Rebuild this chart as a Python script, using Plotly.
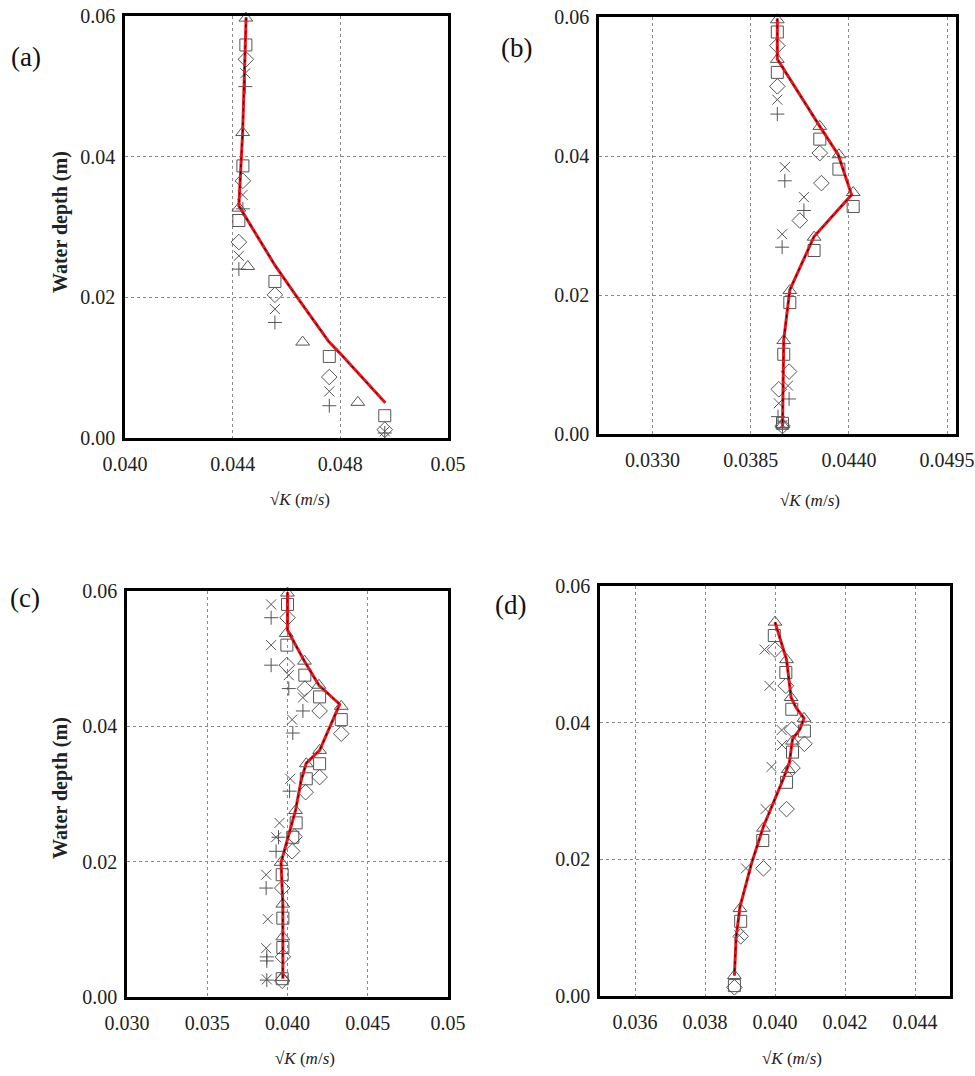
import plotly.graph_objects as go

W, H = 975, 1076

# ---------------- Panel (a) ----------------
a_line_x = [0.04450, 0.04437, 0.04423, 0.04558, 0.04640, 0.04757, 0.04800, 0.04967]
a_line_y = [0.0598, 0.0434, 0.0330, 0.0245, 0.0200, 0.0137, 0.0120, 0.0050]
a_tri_x = [0.04449, 0.04437, 0.04423, 0.04456, 0.04660, 0.04865]
a_tri_y = [0.0597, 0.04343, 0.03268, 0.02439, 0.01364, 0.00507]
a_sq_x = [0.04449, 0.04438, 0.04423, 0.04557, 0.04759, 0.04965]
a_sq_y = [0.05588, 0.03869, 0.03092, 0.02226, 0.01160, 0.00317]
a_dia_x = [0.04449, 0.04438, 0.04423, 0.04557, 0.04759, 0.04965]
a_dia_y = [0.05384, 0.03656, 0.02785, 0.02036, 0.00867, 0.00118]
a_x_x = [0.04447, 0.04437, 0.04423, 0.04557, 0.04759, 0.04965]
a_x_y = [0.05186, 0.03457, 0.02590, 0.01833, 0.00663, 0.00095]
a_p_x = [0.04447, 0.04438, 0.04423, 0.04557, 0.04759, 0.04965]
a_p_y = [0.04996, 0.03258, 0.02401, 0.01643, 0.00459, 0.00071]

# ---------------- Panel (b) ----------------
b_line_x = [0.03999, 0.03999, 0.04237, 0.04340, 0.04415, 0.04205, 0.04069, 0.04035, 0.04028]
b_line_y = [0.0598, 0.05395, 0.04426, 0.04018, 0.03442, 0.02842, 0.02074, 0.01354, 0.00106]
b_tri_x = [0.03999, 0.03999, 0.04237, 0.04344, 0.04424, 0.04205, 0.04069, 0.04035, 0.04028]
b_tri_y = [0.0596, 0.0539, 0.04426, 0.04018, 0.03475, 0.02832, 0.02064, 0.01344, 0.0013]
b_sq_x = [0.03999, 0.03999, 0.04237, 0.04344, 0.04424, 0.04205, 0.04069, 0.04035, 0.04028]
b_sq_y = [0.05784, 0.05203, 0.04243, 0.03811, 0.03274, 0.0264, 0.01891, 0.01147, 0.00154]
b_dia_x = [0.03999, 0.03999, 0.04237, 0.04246, 0.04125, 0.04065, 0.04007, 0.04028]
b_dia_y = [0.05587, 0.05002, 0.04042, 0.0361, 0.03072, 0.00898, 0.00643, 0.00115]
b_x_x = [0.03999, 0.04041, 0.04148, 0.04026, 0.04059, 0.04007, 0.04028]
b_x_y = [0.0481, 0.0384, 0.03408, 0.02875, 0.00696, 0.00442, 0.0013]
b_p_x = [0.03999, 0.04041, 0.04148, 0.04026, 0.04065, 0.04003, 0.04028]
b_p_y = [0.04603, 0.03643, 0.03216, 0.02688, 0.00504, 0.0025, 0.00096]

# ---------------- Panel (c) ----------------
c_line_x = [0.04000, 0.04000, 0.04106, 0.04196, 0.04325, 0.04200, 0.04117, 0.04085, 0.04050, 0.03960, 0.03971, 0.03971]
c_line_y = [0.0598, 0.05422, 0.04963, 0.04607, 0.04326, 0.03644, 0.03457, 0.03200, 0.02756, 0.01990, 0.01373, 0.00270]
c_tri_x = [0.04000, 0.03992, 0.04106, 0.04196, 0.04335, 0.04200, 0.04117, 0.04050, 0.03960, 0.03971, 0.03971, 0.03967]
c_tri_y = [0.0597, 0.05373, 0.04963, 0.04607, 0.04296, 0.03644, 0.03447, 0.02756, 0.01990, 0.01373, 0.00889, 0.00290]
c_sq_x = [0.04000, 0.03996, 0.04108, 0.04200, 0.04335, 0.04200, 0.04117, 0.04054, 0.04033, 0.03967, 0.03971, 0.03971, 0.03967]
c_sq_y = [0.05802, 0.05200, 0.04756, 0.04435, 0.04099, 0.03447, 0.03225, 0.02573, 0.02361, 0.01807, 0.01165, 0.00731, 0.00270]
c_dia_x = [0.04000, 0.03996, 0.04108, 0.04200, 0.04335, 0.04200, 0.04113, 0.04044, 0.04029, 0.03967, 0.03971, 0.03967]
c_dia_y = [0.05605, 0.04904, 0.04558, 0.04227, 0.03891, 0.03249, 0.03027, 0.02370, 0.02153, 0.01610, 0.00593, 0.00240]
c_x_x = [0.03898, 0.03898, 0.04008, 0.04096, 0.04029, 0.04017, 0.03950, 0.03929, 0.03867, 0.03877, 0.03867, 0.03871]
c_x_y = [0.05802, 0.05200, 0.04756, 0.04425, 0.04099, 0.03225, 0.02573, 0.02361, 0.01807, 0.01151, 0.00721, 0.00260]
c_p_x = [0.03898, 0.03898, 0.04008, 0.04096, 0.04033, 0.04013, 0.03944, 0.03929, 0.03867, 0.03871, 0.03871, 0.03871]
c_p_y = [0.05605, 0.04904, 0.04558, 0.04227, 0.03901, 0.03042, 0.02361, 0.02153, 0.01610, 0.00593, 0.00533, 0.00250]

# ---------------- Panel (d) ----------------
d_line_x = [0.04000, 0.04033, 0.04046, 0.04060, 0.04083, 0.04071, 0.04050, 0.04041, 0.04019, 0.03995, 0.03967, 0.03933, 0.03900, 0.03889, 0.03884]
d_line_y = [0.05471, 0.04922, 0.04368, 0.04221, 0.04064, 0.03902, 0.03755, 0.03412, 0.03118, 0.02824, 0.02480, 0.01941, 0.01304, 0.00863, 0.00299]
d_tri_x = [0.04000, 0.04033, 0.04046, 0.04083, 0.04050, 0.04038, 0.03967, 0.03900, 0.03884]
d_tri_y = [0.05471, 0.04922, 0.04368, 0.04064, 0.03730, 0.03314, 0.02456, 0.01279, 0.00299]
d_sq_x = [0.03998, 0.04031, 0.04048, 0.04084, 0.04050, 0.04033, 0.03965, 0.03902, 0.03884]
d_sq_y = [0.05275, 0.04735, 0.04196, 0.03877, 0.03569, 0.03127, 0.02275, 0.01093, 0.00152]
d_dia_x = [0.04000, 0.04031, 0.04048, 0.04084, 0.04050, 0.04033, 0.03967, 0.03902, 0.03884]
d_dia_y = [0.05069, 0.04539, 0.03902, 0.03691, 0.03338, 0.02735, 0.01868, 0.00873, 0.00127]
d_x_x = [0.03970, 0.03984, 0.04019, 0.04020, 0.03990, 0.03973, 0.03917, 0.03898]
d_x_y = [0.05069, 0.04539, 0.03892, 0.03672, 0.03353, 0.02735, 0.01868, 0.00887]

panels = [
    dict(dom=(125, 448, 16, 438), rng=[0.040, 0.052],
         tv=[0.040, 0.044, 0.048, 0.052], tt=["0.040", "0.044", "0.048", "0.05"],
         line=(a_line_x, a_line_y),
         pts=[(a_tri_x, a_tri_y, "triangle-up-open"), (a_sq_x, a_sq_y, "square-open"),
              (a_dia_x, a_dia_y, "diamond-open"), (a_x_x, a_x_y, "x-thin-open"),
              (a_p_x, a_p_y, "cross-thin-open")]),
    dict(dom=(599, 956, 17, 434), rng=[0.030, 0.050],
         tv=[0.0330, 0.0385, 0.0440, 0.0495], tt=["0.0330", "0.0385", "0.0440", "0.0495"],
         line=(b_line_x, b_line_y),
         pts=[(b_tri_x, b_tri_y, "triangle-up-open"), (b_sq_x, b_sq_y, "square-open"),
              (b_dia_x, b_dia_y, "diamond-open"), (b_x_x, b_x_y, "x-thin-open"),
              (b_p_x, b_p_y, "cross-thin-open")]),
    dict(dom=(127, 448, 591, 997), rng=[0.030, 0.050],
         tv=[0.030, 0.035, 0.040, 0.045, 0.050], tt=["0.030", "0.035", "0.040", "0.045", "0.05"],
         line=(c_line_x, c_line_y),
         pts=[(c_tri_x, c_tri_y, "triangle-up-open"), (c_sq_x, c_sq_y, "square-open"),
              (c_dia_x, c_dia_y, "diamond-open"), (c_x_x, c_x_y, "x-thin-open"),
              (c_p_x, c_p_y, "cross-thin-open")]),
    dict(dom=(600, 950, 586, 996), rng=[0.035, 0.045],
         tv=[0.036, 0.038, 0.040, 0.042, 0.044], tt=["0.036", "0.038", "0.040", "0.042", "0.044"],
         line=(d_line_x, d_line_y),
         pts=[(d_tri_x, d_tri_y, "triangle-up-open"), (d_sq_x, d_sq_y, "square-open"),
              (d_dia_x, d_dia_y, "diamond-open"), (d_x_x, d_x_y, "x-thin-open")]),
]

FONT = "Liberation Serif"
MK = "#555555"

fig = go.Figure()
layout = dict(width=W, height=H, margin=dict(l=0, r=0, t=0, b=0, autoexpand=False),
              paper_bgcolor="white", plot_bgcolor="white", showlegend=False,
              font=dict(family=FONT, size=20, color="#222"))

for i, p in enumerate(panels):
    n = "" if i == 0 else str(i + 1)
    xa, ya = "x" + n, "y" + n
    x0, x1, yt, yb = p["dom"]
    layout["xaxis" + n] = dict(
        domain=[x0 / W, x1 / W], range=p["rng"], anchor=ya, automargin=False,
        tickvals=p["tv"], ticktext=p["tt"], ticks="", ticklabeloverflow="allow",
        showgrid=True, gridcolor="#8a8a8a", gridwidth=1, griddash="dot",
        showline=True, linecolor="black", linewidth=2.5, mirror=True,
        zeroline=False, ticklabelstandoff=6,
        tickfont=dict(family=FONT, size=20, color="#222"))
    layout["yaxis" + n] = dict(
        domain=[1 - yb / H, 1 - yt / H], range=[0, 0.06], anchor=xa, automargin=False,
        tickvals=[0, 0.02, 0.04, 0.06], ticktext=["0.00", "0.02", "0.04", "0.06"], ticks="",
        ticklabeloverflow="allow",
        showgrid=True, gridcolor="#8a8a8a", gridwidth=1, griddash="dot",
        showline=True, linecolor="black", linewidth=2.5, mirror=True,
        zeroline=False, ticklabelstandoff=3,
        tickfont=dict(family=FONT, size=20, color="#222"))
    for (px, py, sym) in p["pts"]:
        size = 10 if "thin" in sym else 12
        fig.add_trace(go.Scatter(x=px, y=py, mode="markers", xaxis=xa, yaxis=ya,
                                 cliponaxis=False,
                                 marker=dict(symbol=sym, size=size, color=MK,
                                             line=dict(color=MK, width=1))))
    lx, ly = p["line"]
    fig.add_trace(go.Scatter(x=lx, y=ly, mode="lines", xaxis=xa, yaxis=ya,
                             line=dict(color="#e8141c", width=3)))
    fig.add_trace(go.Scatter(x=lx, y=ly, mode="lines", xaxis=xa, yaxis=ya,
                             line=dict(color="black", width=1, dash="3px,4px")))

fig.update_layout(**layout)

anns = []
for txt, px, py in [("(a)", 26, 57), ("(b)", 516, 48), ("(c)", 25, 598), ("(d)", 511, 605)]:
    anns.append(dict(text=txt, x=px / W, y=1 - py / H, xref="paper", yref="paper",
                     showarrow=False, xanchor="center", yanchor="middle",
                     font=dict(family=FONT, size=27, color="#111")))
for py in [222, 788]:
    anns.append(dict(text="<b>Water depth (m)</b>", x=60 / W, y=1 - py / H,
                     xref="paper", yref="paper", showarrow=False, textangle=-90,
                     xanchor="center", yanchor="middle",
                     font=dict(family=FONT, size=20, color="#222")))
for px, py in [(300, 499), (810, 500), (305, 1058), (792, 1058)]:
    anns.append(dict(text="√<i>K</i> (<i>m</i>/<i>s</i>)", x=px / W, y=1 - py / H,
                     xref="paper", yref="paper", showarrow=False,
                     xanchor="center", yanchor="middle",
                     font=dict(family=FONT, size=17, color="#222")))
fig.update_layout(annotations=anns)

fig.write_html("out.html")
